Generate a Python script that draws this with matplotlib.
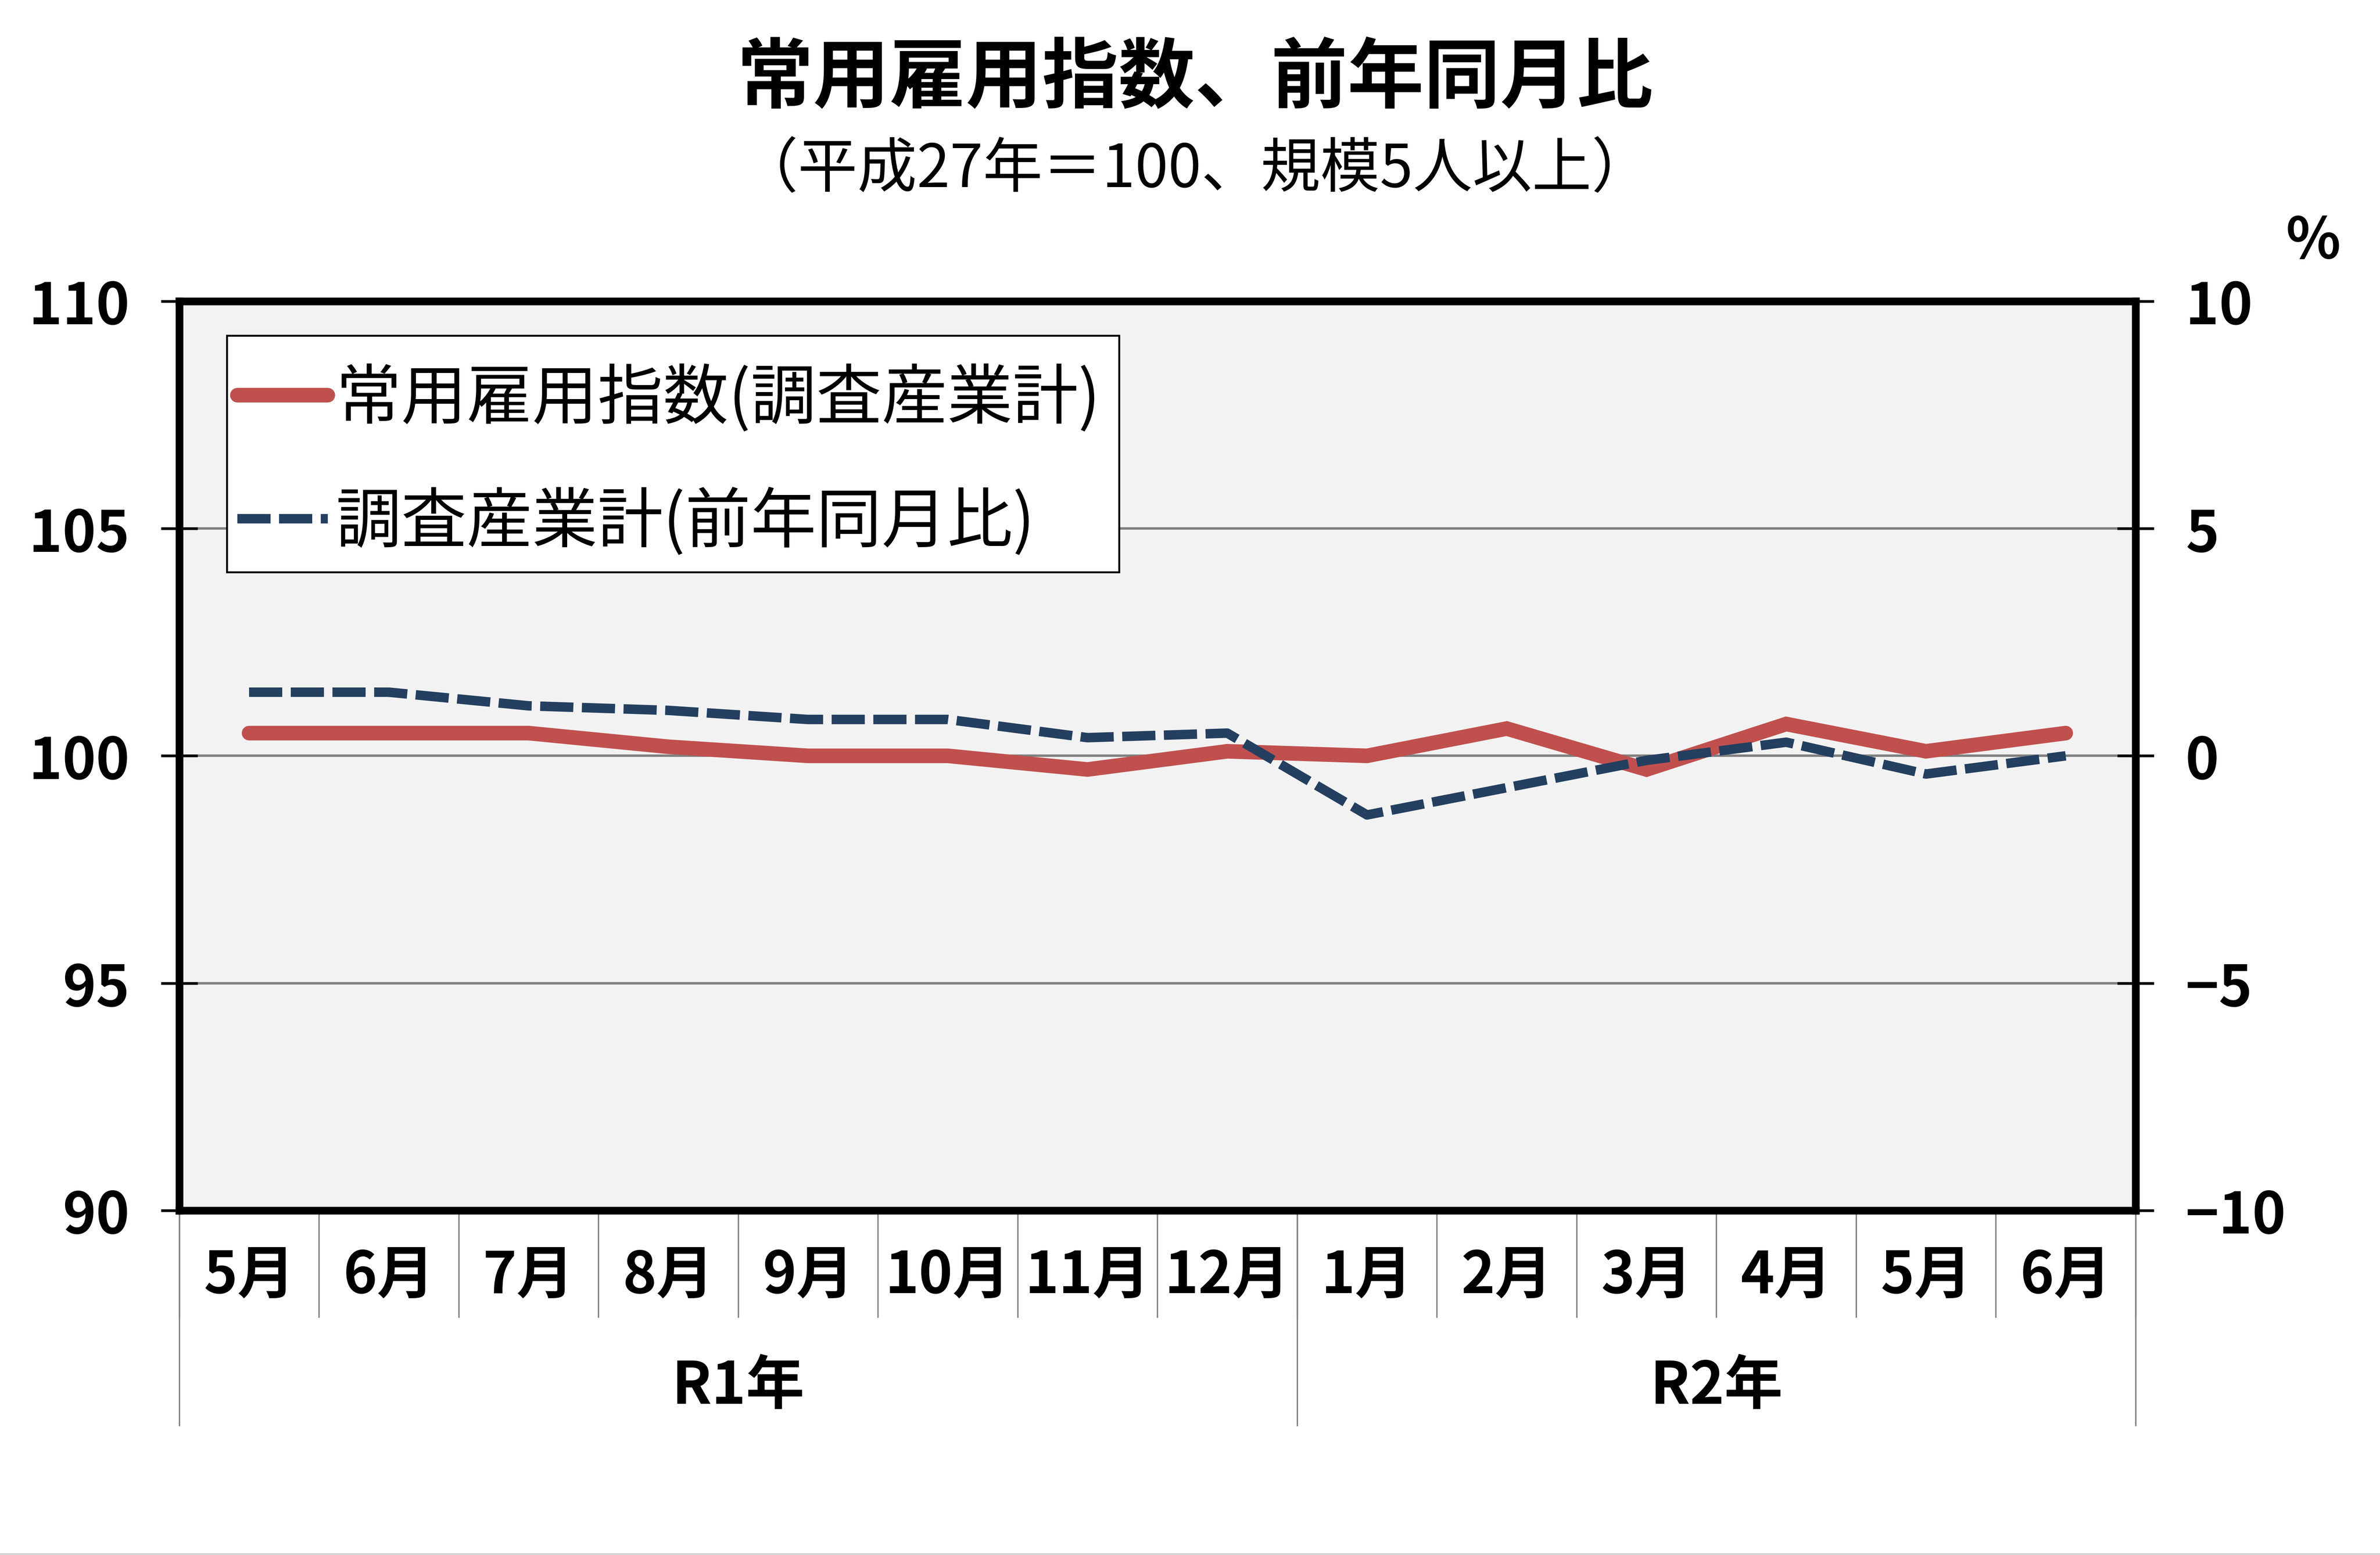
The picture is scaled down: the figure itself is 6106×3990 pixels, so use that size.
import matplotlib
matplotlib.use('Agg')
import matplotlib.pyplot as plt
import numpy as np
from matplotlib.lines import Line2D
from matplotlib.patches import Rectangle

plt.rcParams['font.family'] = ['Noto Sans CJK JP', 'DejaVu Sans']

# data
months = ['5月', '6月', '7月', '8月', '9月', '10月', '11月', '12月',
          '1月', '2月', '3月', '4月', '5月', '6月']
years = ['R1年', 'R2年']
year_counts = [8, 6]
index_values = [100.5, 100.5, 100.5, 100.2, 100.0, 100.0, 99.7, 100.1,
                100.0, 100.6, 99.7, 100.7, 100.1, 100.5]
yoy_values = [1.4, 1.4, 1.1, 1.0, 0.8, 0.8, 0.4, 0.5,
              -1.3, -0.7, -0.1, 0.3, -0.4, 0.0]
left_ticks = [90, 95, 100, 105, 110]
right_ticks = [-10, -5, 0, 5, 10]
legend_labels = ['常用雇用指数(調査産業計)', '調査産業計(前年同月比)']

fig = plt.figure(figsize=(61.06, 39.91), dpi=100)
ax = fig.add_axes([0.0753, 0.2215, 0.822, 0.5846])
ax2 = ax.twinx()

x = np.arange(len(months))

ax.set_facecolor('#F2F2F2')
ax.set_xlim(-0.5, len(months) - 0.5)
ax.set_ylim(90, 110)
ax.set_yticks(left_ticks)
ax.yaxis.grid(True, color='#808080', lw=4.5)
ax.set_axisbelow(True)
ax2.set_ylim(-10, 10)
ax2.set_yticks(right_ticks)

ln1, = ax.plot(x, index_values, color='#C0504D', lw=27,
               solid_capstyle='round', solid_joinstyle='miter')
ln2, = ax2.plot(x, yoy_values, color='#243F60', lw=17.5,
                dashes=(3.5, 0.9), dash_capstyle='butt')

for a in (ax, ax2):
    for s in a.spines.values():
        s.set_linewidth(14)
        s.set_color('black')
    a.tick_params(axis='x', length=0, labelbottom=False)
    a.tick_params(axis='y', direction='inout', length=68, width=5,
                  pad=58, labelsize=105)
    for lab in a.get_yticklabels():
        lab.set_fontweight('bold')

# category axis: month labels, year labels and separators
trans = ax.get_xaxis_transform()
for i, m in enumerate(months):
    ax.text(i, -0.0715, m, transform=trans, ha='center', va='center',
            fontsize=106, fontweight='bold')

bounds = np.arange(len(months) + 1) - 0.5
year_edges = np.concatenate([[0], np.cumsum(year_counts)]) - 0.5
ax.vlines(bounds, -0.118, 0, transform=trans, colors='#7F7F7F', lw=2.5,
          clip_on=False)
ax.vlines(year_edges, -0.237, 0, transform=trans, colors='#7F7F7F', lw=2.5,
          clip_on=False)
for y, lo, hi in zip(years, year_edges[:-1], year_edges[1:]):
    ax.text((lo + hi) / 2, -0.193, y, transform=trans, ha='center',
            va='center', fontsize=108, fontweight='bold')

# legend box drawn separately so the rows can sit further apart
ax2.add_patch(Rectangle((0.0243, 0.7021), 0.4561, 0.2602,
                        transform=ax2.transAxes, facecolor='white',
                        edgecolor='black', lw=3.5, zorder=4))
leg = ax2.legend([ln1, ln2], legend_labels, loc='upper left',
                 bbox_to_anchor=(0.0248, 0.9404), borderaxespad=0,
                 fontsize=121, handlelength=1.38, handletextpad=0.12,
                 labelspacing=0.845, borderpad=0.15, frameon=False)
leg.set_zorder(5)

fig.text(0.502, 0.949, '常用雇用指数、前年同月比', ha='center', va='center',
         fontsize=141, fontweight='bold')
fig.text(0.502, 0.8906, '（平成27年＝100、規模5人以上）', ha='center',
         va='center', fontsize=110)
fig.text(0.972, 0.8447, '%', ha='center', va='center', fontsize=105,
         fontweight='bold')

fig.add_artist(Line2D([0, 1], [0.0008, 0.0008], color='#BFBFBF', lw=2))

fig.savefig('out.png', dpi=100, facecolor='white')
